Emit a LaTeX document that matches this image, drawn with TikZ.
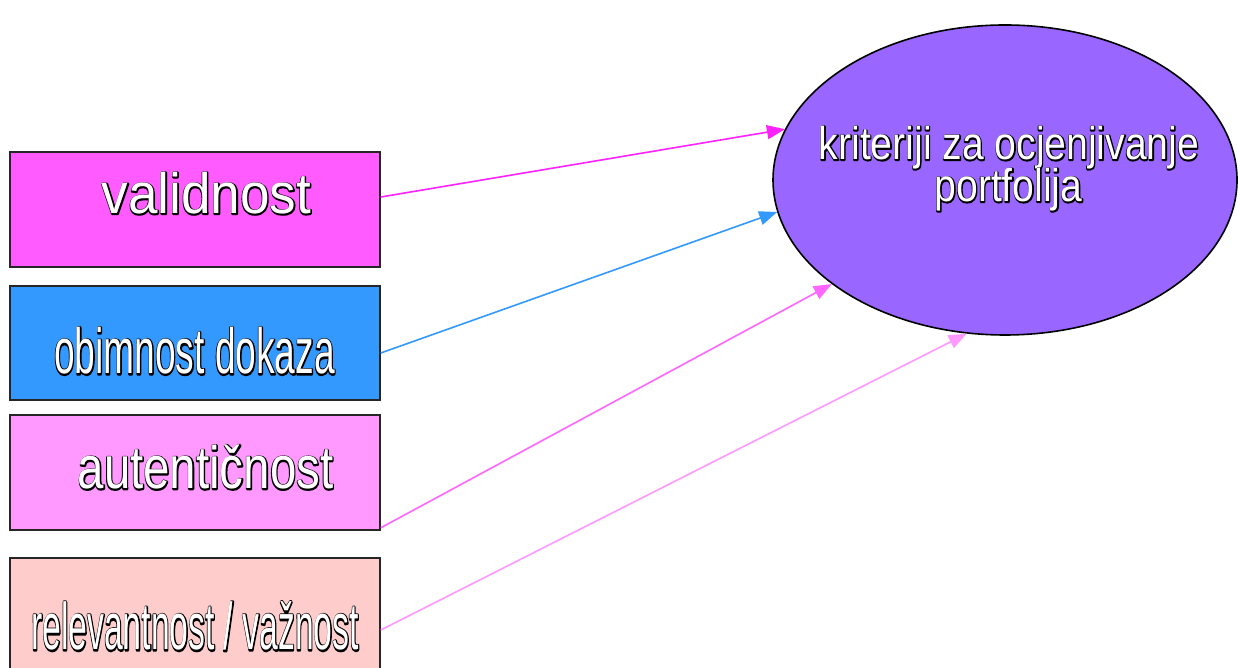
\documentclass[tikz,border=0pt]{standalone}
\usepackage{fontspec}
\setmainfont{Liberation Sans}
\usepackage{graphicx}
\usetikzlibrary{shapes.geometric,arrows.meta}
\definecolor{cValid}{HTML}{FF5BFF}
\definecolor{cObim}{HTML}{3399FF}
\definecolor{cAut}{HTML}{FF99FF}
\definecolor{cRel}{HTML}{FFCCCC}
\definecolor{cEll}{HTML}{9966FF}
\definecolor{aValid}{HTML}{FF22FF}
\definecolor{aObim}{HTML}{3399FF}
\definecolor{aAut}{HTML}{FF66FF}
\definecolor{aRel}{HTML}{FF99FF}
% outlined text: black stroke under, white fill on top
\newcommand\otext[4]{{\fontsize{#1}{#1}\selectfont\scalebox{#2}[1]{%
  \special{pdf:literal direct 1 Tr #4 w 1 j 0 G}\rlap{#3}%
  \special{pdf:literal direct 0 Tr 1 g}#3%
  \special{pdf:literal direct 0 Tr 0 g}}}}
\begin{document}
\begin{tikzpicture}[x=1pt,y=1pt,
  crit/.style={draw=black!85,line width=1.6pt,minimum width=370pt,inner sep=0pt},
  lbl/.style={inner sep=0pt,anchor=base},
  conn/.style={line width=1.6pt,-{Triangle[length=18pt,width=14pt]}}]
\useasboundingbox (0,0) rectangle (1238,668);
\fill[white] (0,0) rectangle (1238,668);
% boxes
\node[crit,fill=cValid,minimum height=115pt] (v) at (195,458.5) {};
\node[crit,fill=cObim,minimum height=114pt] (o) at (195,325) {};
\node[crit,fill=cAut,minimum height=115pt] (a) at (195,195.5) {};
\node[crit,fill=cRel,minimum height=115pt] (r) at (195,52.5) {};
% ellipse
\node[ellipse,draw=black,line width=1.6pt,fill=cEll,minimum width=464pt,minimum height=310pt,inner sep=0pt] (e) at (1005,488) {};
% labels
\node[lbl] (tv) at (206.5,454) {\otext{57}{0.93}{validnost}{2.4}};
\node[lbl] (to) at (194.5,294) {\otext{64}{0.58}{obimnost dokaza}{3.2}};
\node[lbl] (ta) at (205.5,179) {\otext{60}{0.79}{autentičnost}{2.7}};
\node[lbl] (tr) at (195,18) {\otext{66}{0.51}{relevantnost / važnost}{3.4}};
\node[lbl] (te1) at (1009,508) {\otext{46}{0.85}{kriteriji za ocjenjivanje}{2.4}};
\node[lbl] (te2) at (1008.5,466) {\otext{46}{0.85}{portfolija}{2.4}};
% connectors
\draw[conn,aValid] ([yshift=12.5pt]v.east) -- (e.167.8);
\draw[conn,aObim] ([yshift=-10pt]o.east) -- (e.188.9);
\draw[conn,aAut] ([yshift=3pt]a.south east) -- (e.211.7);
\draw[conn,aRel] ([yshift=-14.5pt]r.east) -- (e.256.4);
\end{tikzpicture}
\end{document}
